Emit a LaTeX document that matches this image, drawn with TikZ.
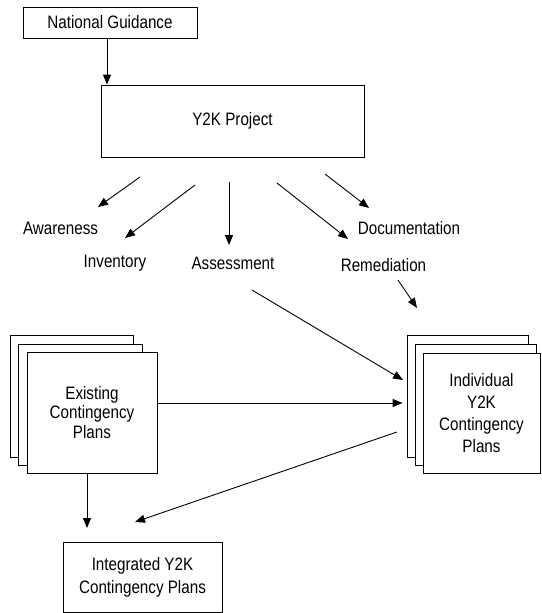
\documentclass[tikz,border=0pt]{standalone}
\usepackage{fontspec}
\setmainfont{Liberation Sans}[FakeStretch=0.845]
\usetikzlibrary{arrows.meta}
\begin{document}
\begin{tikzpicture}[x=1pt,y=-1pt,
  font=\fontsize{18}{20}\selectfont,
  box/.style={draw, line width=0.9pt, inner sep=0pt, align=center, fill=white},
  sized/.style 2 args={minimum width=#1pt, minimum height=#2pt},
  lbl/.style={inner sep=0pt, anchor=center},
  arr/.style={line width=0.9pt, -{Triangle[length=10pt,width=8pt]}}]
\useasboundingbox (0,0) rectangle (541,613);

% boxes
\node[box, sized={174}{31}] (ng) at (110,22.5) {National Guidance};
\node[box, sized={263}{72}] (y2k) at (232.5,121) {Y2K Project};

% phase labels
\node[lbl] (aw)  at (60.5,228) {Awareness};
\node[lbl] (inv) at (115,263) {Inventory};
\node[lbl] (as)  at (233,263) {Assessment};
\node[lbl] (doc) at (409,228) {Documentation};
\node[lbl] (rem) at (383.5,265) {Remediation};

% existing contingency plans stack
\node[box, sized={123}{122}] (eb) at (71.5,396) {};
\node[box, sized={124}{121}] (em) at (80,404.5) {};
\node[box, sized={130}{121}, font=\fontsize{18}{19.5}\selectfont] (ex) at (92,412.5) {Existing\\Contingency\\Plans};

% individual Y2K contingency plans stack
\node[box, sized={121}{122}] (ib) at (467.5,396) {};
\node[box, sized={121}{121}] (im) at (475.5,404.5) {};
\node[box, sized={117}{120}, font=\fontsize{18}{22}\selectfont] (ind) at (481.5,413) {Individual\\Y2K\\Contingency\\Plans};

% integrated plans
\node[box, sized={159}{70}, font=\fontsize{18}{23}\selectfont] (int) at (142.5,577) {Integrated Y2K\\Contingency Plans};

% free connector ends
\coordinate (s1) at (140,177); \coordinate (t1) at (98,207);
\coordinate (s2) at (195,185); \coordinate (t2) at (125,238);
\coordinate (s3) at (229,182); \coordinate (t3) at (229,245);
\coordinate (s4) at (277,183); \coordinate (t4) at (348,239);
\coordinate (s5) at (325,174); \coordinate (t5) at (369,208);
\coordinate (s6) at (252,290); \coordinate (t6) at (403,380);
\coordinate (s7) at (398,280); \coordinate (t7) at (417,308);
\coordinate (s8) at (397,432); \coordinate (t8) at (135,522);
\coordinate (t9) at (87,528);

% connectors
\draw[arr] ([xshift=-3pt]ng.south) -- ([xshift=-3pt]ng.south |- y2k.north);
\draw[arr] (s1) -- (t1);
\draw[arr] (s2) -- (t2);
\draw[arr] (s3) -- (t3);
\draw[arr] (s4) -- (t4);
\draw[arr] (s5) -- (t5);
\draw[arr] (s6) -- (t6);
\draw[arr] (s7) -- (t7);
\draw[arr, shorten >=4pt] ([yshift=9.5pt]ex.east) -- ([yshift=9.5pt]ex.east -| ib.west);
\draw[arr] (s8) -- (t8);
\draw[arr] ([xshift=-5pt]ex.south) -- (t9);
\end{tikzpicture}
\end{document}
